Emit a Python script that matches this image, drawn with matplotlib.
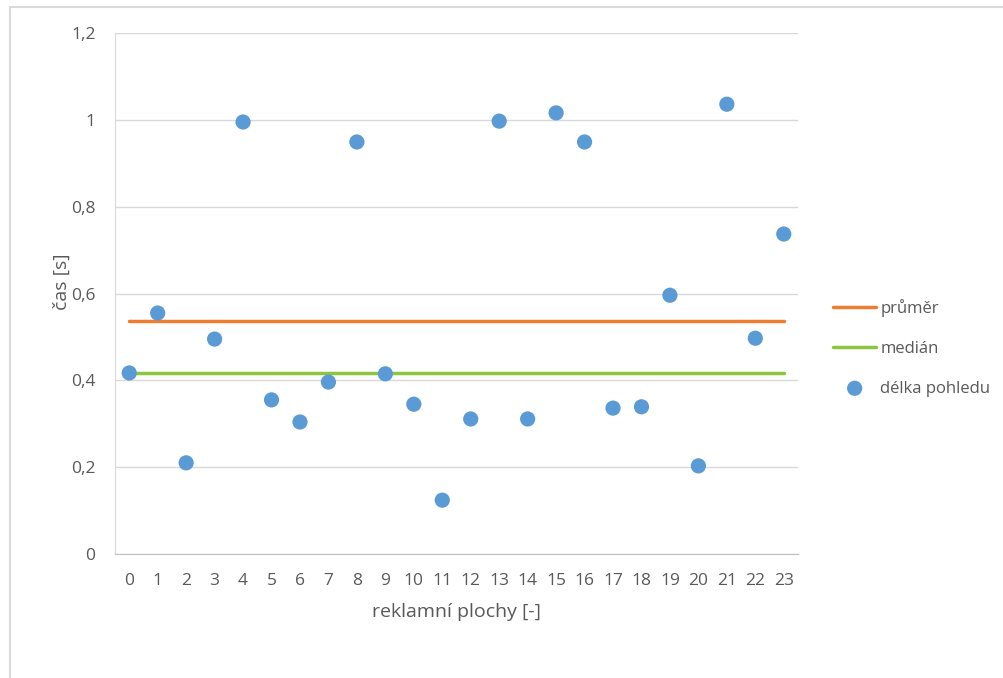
import matplotlib
matplotlib.use("Agg")
import matplotlib.pyplot as plt
from matplotlib.patches import Rectangle

categories = list(range(24))
delka_pohledu = [0.417, 0.555, 0.210, 0.495, 0.995, 0.355, 0.304, 0.396,
                 0.949, 0.415, 0.345, 0.124, 0.311, 0.997, 0.311, 1.016,
                 0.949, 0.336, 0.339, 0.596, 0.203, 1.036, 0.497, 0.737]
prumer = 0.537
median = 0.417
y_ticks = [0, 0.2, 0.4, 0.6, 0.8, 1.0, 1.2]
y_ticklabels = ["0", "0,2", "0,4", "0,6", "0,8", "1", "1,2"]

plt.rcParams['font.family'] = ['Open Sans', 'DejaVu Sans']
W, H = 1004, 678
fig = plt.figure(figsize=(W / 100, H / 100), dpi=100)
fig.patch.set_facecolor('white')

# chart frame
fig.patches.append(Rectangle((10 / W, -0.1), 1.2, 1 - 7 / H + 0.1,
                             transform=fig.transFigure, fill=False,
                             edgecolor='#D9D9D9', linewidth=1.5))

ax = fig.add_axes([115 / W, 1 - 554 / H, (798 - 115) / W, (554 - 33) / H])
ax.set_xlim(-0.5, 23.5)
ax.set_ylim(0, 1.2)

text_col = '#595959'
ax.set_yticks(y_ticks)
ax.set_yticklabels(y_ticklabels)
ax.set_xticks(categories)
ax.set_xticklabels([str(c) for c in categories])
ax.tick_params(axis='both', length=0, labelsize=12.5, colors=text_col)
ax.tick_params(axis='y', pad=14)
ax.tick_params(axis='x', pad=14)

ax.grid(axis='y', color='#D9D9D9', linewidth=1)
ax.set_axisbelow(True)
for s in ['top', 'right']:
    ax.spines[s].set_visible(False)
ax.spines['left'].set_color('#D9D9D9')
ax.spines['bottom'].set_color('#BFBFBF')

ax.plot(categories, [prumer] * len(categories), color='#ED7D31',
        linewidth=2.5, label='průměr', zorder=2, solid_capstyle='round')
ax.plot(categories, [median] * len(categories), color='#8CC63F',
        linewidth=2.5, label='medián', zorder=2, solid_capstyle='round')
ax.scatter(categories, delka_pohledu, s=120, color='#5B9BD5', zorder=3,
           label='délka pohledu', edgecolors='none')

ax.set_xlabel('reklamní plochy [-]', fontsize=14, color=text_col, labelpad=10)
fig.text(62 / W, 1 - 282 / H, 'čas [s]', rotation=90, fontsize=14,
         color=text_col, ha='center', va='center')

leg = ax.legend(loc='center left', bbox_to_anchor=(818 / W, 1 - 348 / H),
                bbox_transform=fig.transFigure, frameon=False, fontsize=12,
                labelcolor=text_col, handlelength=2.6, handletextpad=0.25,
                labelspacing=1.42, markerscale=1.0)

fig.savefig('out.png', dpi=100)
